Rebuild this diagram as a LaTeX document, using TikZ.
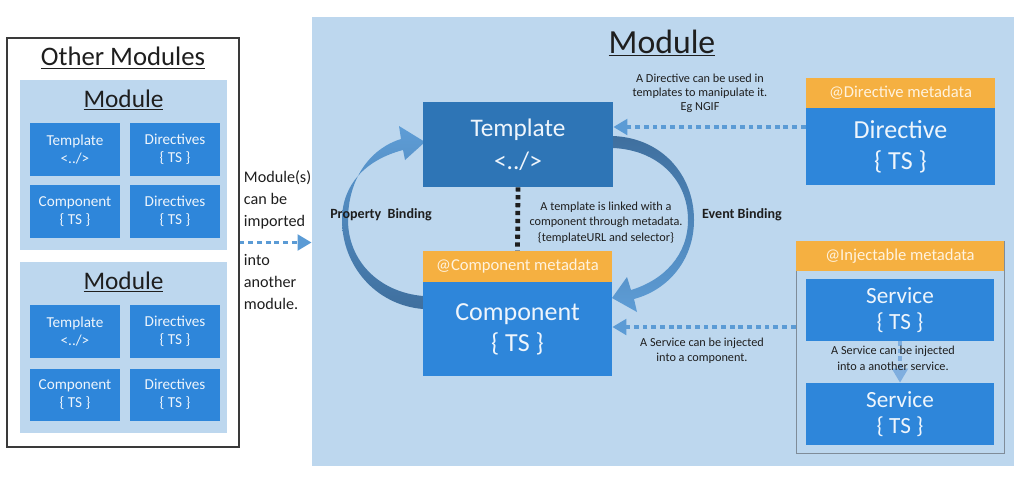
\documentclass[tikz,border=0pt]{standalone}
\usepackage{fontspec}
\setmainfont{Carlito}
\usetikzlibrary{arrows.meta, positioning, calc}
\definecolor{modbg}{HTML}{BDD7EE}
\definecolor{boxblue}{HTML}{2E86DA}
\definecolor{tplblue}{HTML}{2E75B6}
\definecolor{metaorange}{HTML}{F5B041}
\definecolor{metatext}{HTML}{FFF3DF}
\definecolor{boxtext}{HTML}{EEF5FC}
\definecolor{linkblue}{HTML}{5B9BD5}
\definecolor{svclink}{HTML}{7FAEDF}
\definecolor{bindlight}{HTML}{5E9DD6}
\definecolor{binddark}{HTML}{3F6F9E}
\definecolor{inktext}{HTML}{1E1E1E}
\definecolor{frame}{HTML}{3A3A3A}
\definecolor{injframe}{HTML}{7F8C99}

\begin{document}
\begin{tikzpicture}[x=0.025cm, y=-0.025cm,
  >={Triangle[length=10pt, width=11pt]},
  panel/.style={fill=modbg, inner sep=0pt},
  minibox/.style={fill=boxblue, minimum width=2.25cm, minimum height=1.3cm, inner sep=0pt,
                  align=center, text=boxtext, font=\fontsize{10.8}{12.5}\selectfont},
  bigbox/.style={fill=boxblue, minimum width=4.725cm, inner sep=0pt,
                 align=center, text=boxtext, font=\fontsize{18.5}{22}\selectfont},
  metabar/.style={fill=metaorange, minimum width=4.725cm, minimum height=0.75cm, inner sep=0pt,
                  text=metatext, font=\fontsize{11.8}{13}\selectfont},
  note/.style={align=center, text=inktext, font=\fontsize{8.7}{10.8}\selectfont},
  bindlabel/.style={text=inktext, font=\fontsize{10}{12}\selectfont\bfseries},
  inject/.style={linkblue, line width=2.8pt, dash pattern=on 3.4pt off 2.8pt, ->},
]
\useasboundingbox (0,0) rectangle (1024,487);

% ============ Left: Other Modules ============
\node[draw=frame, line width=0.8pt, fill=white, minimum width=5.8cm, minimum height=10.225cm] (othermods) at (123,242.5) {};
\node[font=\fontsize{19}{22}\selectfont, text=inktext] (othertitle) at (123,58) {\underline{Other Modules}};

% First module
\node[panel, minimum width=5.175cm, minimum height=4.25cm] (om1) at (123.5,165) {};
\node[font=\fontsize{18}{21}\selectfont, text=inktext] (om1title) at (123.5,100) {\underline{Module}};
\node[minibox] (om1tpl) at (75,149.5) {Template\\<../>};
\node[minibox] (om1dir) at (175,149.5) {Directives\\\{ TS \}};
\node[minibox] (om1cmp) at (75,211.5) {Component\\\{ TS \}};
\node[minibox] (om1dirb) at (175,211.5) {Directives\\\{ TS \}};

% Second module
\node[panel, minimum width=5.175cm, minimum height=4.275cm] (om2) at (123.5,347.5) {};
\node[font=\fontsize{18}{21}\selectfont, text=inktext] (om2title) at (123.5,282) {\underline{Module}};
\node[minibox] (om2tpl) at (75,331.5) {Template\\<../>};
\node[minibox] (om2dir) at (175,331.5) {Directives\\\{ TS \}};
\node[minibox] (om2cmp) at (75,394.5) {Component\\\{ TS \}};
\node[minibox] (om2dirb) at (175,394.5) {Directives\\\{ TS \}};

% Import note
\node[anchor=west, align=left, text=inktext, font=\fontsize{11.5}{15.6}\selectfont] (importtop) at (239,200) {Module(s)\\can be\\imported};
\node[anchor=west, align=left, text=inktext, font=\fontsize{11.5}{15.6}\selectfont] (importbot) at (239,282) {into\\another\\module.};

% ============ Right: Module ============
\node[panel, minimum width=17.55cm, minimum height=11.225cm] (mainmod) at (663,241.5) {};
\node[font=\fontsize{24}{28}\selectfont, text=inktext] (maintitle) at (662,43) {\underline{Module}};

\draw[inject] (othermods.east) -- (mainmod.west |- othermods.east);

% Binding arrows
\shade[top color=bindlight, bottom color=binddark]
  (423,309) .. controls (375,305) and (342,265) .. (342,220)
  .. controls (342,185) and (365,160) .. (403,150)
  -- (405,160) -- (425,142) -- (399,126) -- (401,139)
  .. controls (369,149) and (348,180) .. (348,220)
  .. controls (348,260) and (378,292) .. (423,296) -- cycle;
\shade[top color=binddark, bottom color=bindlight]
  (613,136) .. controls (662,138) and (694,175) .. (694,220)
  .. controls (694,260) and (668,290) .. (634,299)
  -- (637,312) -- (612,298) -- (627,277) -- (631,290)
  .. controls (664,280) and (688,255) .. (688,220)
  .. controls (688,180) and (658,150) .. (613,148) -- cycle;
\node[bindlabel] (propbind) at (381,215) {Property\ \ Binding};
\node[bindlabel] (eventbind) at (742,215) {Event Binding};

% Template
\node[fill=tplblue, minimum width=4.75cm, minimum height=2.125cm, inner sep=0pt, align=center,
      text=boxtext, font=\fontsize{18}{23.5}\selectfont] (tmpl) at (518,144.5) {Template\\<../>};

% Component
\node[bigbox, minimum height=2.35cm] (cmpbody) at (517.5,329) {Component\\\{ TS \}};
\node[metabar, minimum height=0.775cm] (cmpmeta) at (517.5,266.5) {@Component metadata};

\draw[inktext, line width=3.4pt, dash pattern=on 3pt off 2.6pt] (tmpl.south) -- (cmpmeta.north);
\node[note, font=\fontsize{8.7}{11}\selectfont] (linknote) at (606,222.5) {A template is linked with a\\component through metadata.\\\{templateURL and selector\}};

% Directive
\node[bigbox, minimum height=1.925cm] (dirbody) at (900.5,146.5) {Directive\\\{ TS \}};
\node[metabar] (dirmeta) at (900.5,93) {@Directive metadata};
\node[note, font=\fontsize{8.7}{10}\selectfont] (dirnote) at (700,93.5) {A Directive can be used in\\templates to manipulate it.\\Eg NGIF};
\coordinate (dirout) at ($(dirbody.west)+(0,-19.5)$);
\draw[inject] (dirout) -- (tmpl.east |- dirout);

% Injectable services
\node[draw=injframe, line width=0.6pt, fill=modbg, minimum width=5.2cm, minimum height=5.3cm] (injbox) at (900,347) {};
\node[metabar, minimum width=5.2cm] (injmeta) at (900,256) {@Injectable metadata};
\node[bigbox, minimum width=4.7cm, minimum height=1.55cm, font=\fontsize{16.5}{18.5}\selectfont] (svc1) at (900,310) {Service\\\{ TS \}};
\node[bigbox, minimum width=4.7cm, minimum height=1.55cm, font=\fontsize{16.5}{18.5}\selectfont] (svc2) at (900,414) {Service\\\{ TS \}};
\draw[svclink, line width=2.4pt, dash pattern=on 3pt off 2.4pt, ->] (svc1.south) -- (svc2.north);
\node[note, font=\fontsize{8.7}{11.2}\selectfont] (svcnote) at (893,358) {A Service can be injected\\into a another service.};

\coordinate (svcout) at ($(injbox.west |- svc1.center)+(0,17)$);
\draw[inject] (svcout) -- (cmpbody.east |- svcout);
\node[note, font=\fontsize{8.7}{10.7}\selectfont] (cmpnote) at (702,350.5) {A Service can be injected\\into a component.};

\end{tikzpicture}
\end{document}
